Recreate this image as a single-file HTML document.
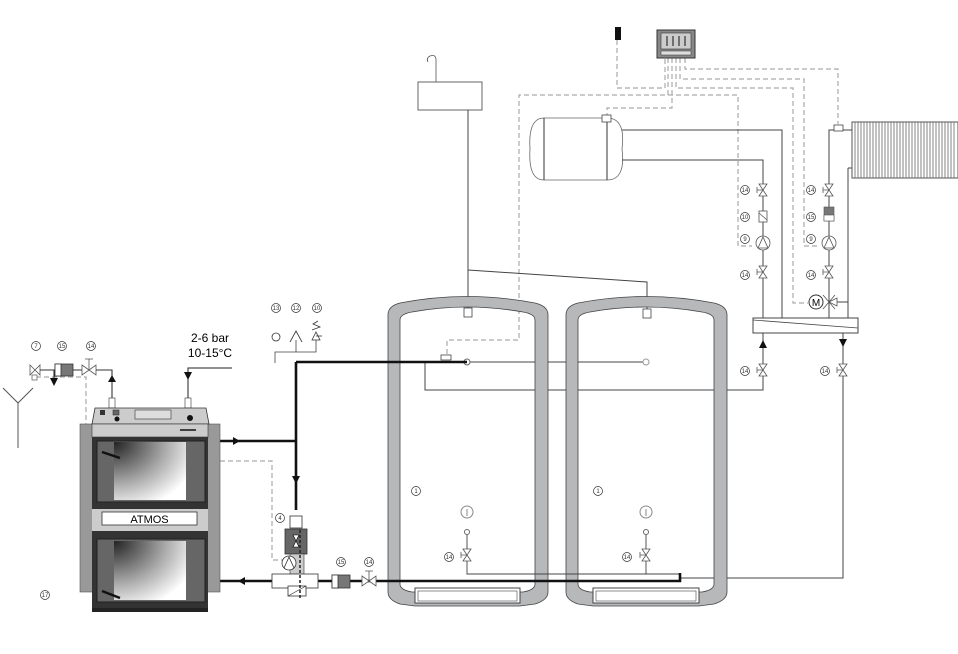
<!DOCTYPE html>
<html><head><meta charset="utf-8"><style>
html,body{margin:0;padding:0;background:#fff;}
svg{display:block;}
text{font-family:"Liberation Sans",sans-serif;}
.n{font-size:6px;text-anchor:middle;}
</style></head><body>
<svg width="958" height="654" viewBox="0 0 958 654" xmlns="http://www.w3.org/2000/svg">
<defs>
<radialGradient id="g" cx="0" cy="0" r="1.2">
<stop offset="0" stop-color="#222"/><stop offset="0.6" stop-color="#aaa"/><stop offset="1" stop-color="#fff"/>
</radialGradient>
<g id="vv"><path d="M-4,-6 L4,-6 L-4,6 L4,6 Z" fill="#fff" stroke="#555" stroke-width="0.8"/><path d="M0,0 h-6 M-6,-3 v6" stroke="#555" stroke-width="0.8"/></g>
<g id="pump"><circle r="7" fill="#fff" stroke="#555" stroke-width="0.8"/><path d="M-5,5 L0,-6 L5,5 Z" fill="none" stroke="#555" stroke-width="0.8"/></g>
</defs>

<!-- dashed signal lines -->
<g fill="none" stroke="#aaa" stroke-width="1.2" stroke-dasharray="5,3">
<path d="M617,40 V88 H665 V58"/>
<path d="M668,58 V95 H519 V340 H447 V354"/>
<path d="M668,95 H738 V246 H752"/>
<path d="M672,58 V108 H607 V118"/>
<path d="M676,58 V88 H793 V303 H808"/>
<path d="M680,58 V79 H804 V246 H818"/>
<path d="M685,58 V69 H838 V124"/>
<path d="M212,461 H272 V560 H283"/>
<path d="M36,377 H86 V425"/>
</g>

<!-- controller & sensor -->
<rect x="615" y="27" width="6" height="13" fill="#111"/>
<rect x="657" y="30" width="38" height="28" fill="#888" stroke="#333"/>
<rect x="661" y="33" width="30" height="16" fill="#ccc" stroke="#333" stroke-width="0.6"/>
<path d="M667,36v10M673,36v10M679,36v10M685,36v10" stroke="#333" stroke-width="1.2"/>
<rect x="661" y="51" width="30" height="4" fill="#ddd" stroke="#333" stroke-width="0.5"/>

<!-- expansion vessel -->
<path d="M436,82 V60 Q436,54 430,56 Q426,58 428,62" fill="none" stroke="#555" stroke-width="0.8"/>
<rect x="418" y="82" width="64" height="28" fill="#fff" stroke="#666"/>
<path d="M468,110 V313 M468,270 L647,282 V313" fill="none" stroke="#444" stroke-width="1"/>

<!-- DHW horizontal tank -->
<path d="M544,118 H607 Q626,118 622,149 Q626,180 607,180 H544 Q528,180 530,149 Q528,118 544,118 Z" fill="#fff" stroke="#666" stroke-width="0.8"/>
<path d="M544,118 V180 M607,118 V180" stroke="#333" stroke-width="1"/>
<rect x="602" y="115" width="9" height="7" fill="#fff" stroke="#444" stroke-width="0.8"/>

<!-- thin hydraulic lines right -->
<g fill="none" stroke="#444" stroke-width="1">
<path d="M622,130 H782 V318"/>
<path d="M622,160 H763 V318"/>
<path d="M829,318 V130 H852"/>
<path d="M848,168 H852 M848,168 V318 M836,302 H848"/>
<path d="M763,333 V390 H425 V362"/>
<path d="M843,333 V578 H680"/>
<path d="M467,362 H647"/>
</g>
<!-- radiator -->
<rect x="852" y="122" width="106" height="56" fill="#fff" stroke="#555"/>
<path d="M855,122V178M858,122V178M861,122V178M864,122V178M867,122V178M870,122V178M873,122V178M876,122V178M879,122V178M882,122V178M885,122V178M888,122V178M891,122V178M894,122V178M897,122V178M900,122V178M903,122V178M906,122V178M909,122V178M912,122V178M915,122V178M918,122V178M921,122V178M924,122V178M927,122V178M930,122V178M933,122V178M936,122V178M939,122V178M942,122V178M945,122V178M948,122V178M951,122V178M954,122V178" stroke="#666" stroke-width="0.8"/>
<rect x="834" y="125" width="9" height="6" fill="#fff" stroke="#444" stroke-width="0.8"/>
<!-- manifold -->
<rect x="753" y="318" width="105" height="15" fill="#fff" stroke="#444"/>
<path d="M753,320 L858,328" stroke="#444" stroke-width="0.8"/>

<!-- components on right columns -->
<use href="#vv" x="763" y="190"/><use href="#vv" x="763" y="272"/>
<rect x="759" y="211" width="8" height="11" fill="#fff" stroke="#555" stroke-width="0.8"/><path d="M759,213 L767,220" stroke="#555" stroke-width="0.7"/>
<use href="#pump" x="763" y="243"/>
<use href="#vv" x="829" y="190"/><use href="#vv" x="829" y="272"/>
<rect x="824" y="207" width="10" height="14" fill="#777" stroke="#555" stroke-width="0.6"/><rect x="824" y="215" width="10" height="6" fill="#fff" stroke="#555" stroke-width="0.6"/>
<use href="#pump" x="829" y="243"/>
<path d="M823,295 L835,309 M835,295 L823,309 M829,302 L837,298 L837,306 Z" fill="#fff" stroke="#555" stroke-width="0.8"/>
<circle cx="816" cy="302" r="7" fill="#fff" stroke="#333"/><text x="816" y="306" font-size="10" text-anchor="middle">M</text>
<use href="#vv" x="763" y="370"/><use href="#vv" x="843" y="370"/>
<path d="M759,348 L763,340 L767,348 Z M839,339 L847,339 L843,347 Z" fill="#111"/>

<!-- tanks -->
<g fill="#b6b8ba" stroke="#444" stroke-width="0.8">
<path fill-rule="evenodd" d="M388,315 Q388,306 400,303 Q467,290 535,303 Q548,306 548,315 V592 Q548,600 535,604 L520,606 H415 L400,604 Q388,600 388,592 Z M400,320 Q400,314 412,312 Q467,302 523,312 Q535,314 535,320 V584 Q535,590 523,592 H412 Q400,590 400,584 Z"/>
<path fill-rule="evenodd" d="M566,315 Q566,306 578,303 Q646,290 714,303 Q727,306 727,315 V592 Q727,600 714,604 L699,606 H593 L578,604 Q566,600 566,592 Z M578,320 Q578,314 590,312 Q646,302 702,312 Q714,314 714,320 V584 Q714,590 702,592 H590 Q578,590 578,584 Z"/>
</g>
<rect x="415" y="588" width="105" height="15" fill="#fff" stroke="#444"/><rect x="418" y="591" width="99" height="10" fill="#fff" stroke="#444" stroke-width="0.6"/>
<rect x="593" y="588" width="106" height="15" fill="#fff" stroke="#444"/><rect x="596" y="591" width="100" height="10" fill="#fff" stroke="#444" stroke-width="0.6"/>
<rect x="464" y="308" width="8" height="9" fill="#fff" stroke="#444" stroke-width="0.8"/>
<rect x="643" y="309" width="8" height="9" fill="#fff" stroke="#444" stroke-width="0.8"/>
<rect x="441" y="355" width="10" height="5" fill="#fff" stroke="#444" stroke-width="0.8"/>
<circle cx="467" cy="362" r="3" fill="#fff" stroke="#666"/><circle cx="646" cy="362" r="3" fill="#fff" stroke="#999"/>
<circle cx="467" cy="512" r="6" fill="#fff" stroke="#888"/><path d="M467,509v7" stroke="#888"/>
<circle cx="646" cy="512" r="6" fill="#fff" stroke="#888"/><path d="M646,509v7" stroke="#888"/>
<circle cx="467" cy="532" r="2.5" fill="#fff" stroke="#666"/><use href="#vv" x="467" y="555"/>
<circle cx="646" cy="532" r="2.5" fill="#fff" stroke="#666"/><use href="#vv" x="646" y="555"/>
<path d="M467,535 V549 M467,561 V574 H680 M646,535 V549 M646,561 V574" stroke="#444" stroke-width="0.9" fill="none"/>

<!-- thick pipes -->
<g fill="none" stroke="#111" stroke-width="2.6">
<path d="M220,441 H296 M296,362 V510 M296,362 H467"/>
<path d="M220,581 H272 M318,581 H680 V573"/>
</g>
<path d="M233,437 L240,441 L233,445 Z M292,476 L300,476 L296,484 Z M245,577 L238,581 L245,585 Z" fill="#111"/>

<!-- safety group -->
<path d="M275,363 V352 H316 V340 M296,352 V340" fill="none" stroke="#444" stroke-width="0.8"/>
<circle cx="276" cy="337" r="4" fill="#fff" stroke="#333" stroke-width="0.8"/>
<path d="M290,342 L296,331 L302,342" fill="none" stroke="#333" stroke-width="0.8"/>
<path d="M312,340 L316,332 L320,340 Z M312,330 L320,327 L313,324 L318,321" fill="none" stroke="#333" stroke-width="0.8"/>
<path d="M316,336 H322" stroke="#333" stroke-width="0.8"/>

<!-- mixing/loading unit -->
<rect x="290" y="516" width="12" height="12" fill="#fff" stroke="#333" stroke-width="0.8"/>
<rect x="285" y="529" width="22" height="25" fill="#666" stroke="#333" stroke-width="0.8"/>
<path d="M293,535 L299,535 L296,541 Z M293,547 L299,547 L296,541 Z" fill="#fff" stroke="#000" stroke-width="0.6"/>
<rect x="290" y="554" width="14" height="30" fill="#ccc" stroke="#333" stroke-width="0.6"/>
<circle cx="289" cy="563" r="7" fill="#fff" stroke="#333" stroke-width="0.8"/><path d="M284,568 L289,557 L294,568" fill="none" stroke="#333" stroke-width="0.8"/>
<rect x="272" y="574" width="46" height="14" fill="#fff" stroke="#333" stroke-width="0.8"/>
<rect x="288" y="586" width="18" height="10" fill="#fff" stroke="#333" stroke-width="0.8"/><path d="M288,596 L306,586" stroke="#333" stroke-width="0.7"/>
<path d="M300,530 V598" stroke="#222" stroke-width="1.5" stroke-dasharray="3,2"/>
<rect x="332" y="575" width="18" height="13" fill="#777" stroke="#333" stroke-width="0.8"/><rect x="332" y="575" width="6" height="13" fill="#fff" stroke="#333" stroke-width="0.8"/>
<path d="M362,576 L376,586 L376,576 L362,586 Z" fill="#fff" stroke="#555" stroke-width="0.8"/><path d="M369,581 V571 M365,571 H373" stroke="#555" stroke-width="0.8"/>

<!-- boiler top left group -->
<path d="M112,398 V382 M112,382 V370 H103 M78,370 H54 V380 M188,398 V368 H232" fill="none" stroke="#222" stroke-width="1"/>
<path d="M108,382 L112,375 L116,382 Z M50,378 L58,378 L54,386 Z M184,372 L192,372 L188,380 Z" fill="#111"/>
<path d="M30,365 L40,375 L40,365 L30,375 Z" fill="#fff" stroke="#555" stroke-width="0.8"/>
<rect x="32" y="375" width="5" height="5" fill="#fff" stroke="#555" stroke-width="0.7"/>
<rect x="55" y="364" width="18" height="12" fill="#777" stroke="#333" stroke-width="0.8"/><rect x="55" y="364" width="6" height="12" fill="#fff" stroke="#333" stroke-width="0.8"/>
<path d="M82,365 L96,375 L96,365 L82,375 Z" fill="#fff" stroke="#555" stroke-width="0.8"/><path d="M89,370 V359 M85,359 H93" stroke="#555" stroke-width="0.8"/>
<path d="M40,370 H55 M73,370 H82 M96,370 H112" stroke="#333"/>
<path d="M3,388 L18,403 L33,388 M18,403 V448" fill="none" stroke="#555" stroke-width="1"/>
<text x="210" y="342" font-size="12" text-anchor="middle">2-6 bar</text>
<text x="210" y="357" font-size="12" text-anchor="middle">10-15°C</text>

<!-- boiler -->
<rect x="80" y="424" width="13" height="168" fill="#999" stroke="#555" stroke-width="0.6"/>
<rect x="207" y="424" width="13" height="168" fill="#999" stroke="#555" stroke-width="0.6"/>
<rect x="109" y="398" width="6" height="10" fill="#fff" stroke="#333" stroke-width="0.6"/>
<rect x="185" y="398" width="6" height="10" fill="#fff" stroke="#333" stroke-width="0.6"/>
<path d="M95,408 H206 L209,424 H92 Z" fill="#ccc" stroke="#333" stroke-width="0.8"/>
<rect x="92" y="424" width="116" height="13" fill="#ccc" stroke="#333" stroke-width="0.6"/>
<rect x="100" y="410" width="5" height="5" fill="#333"/><rect x="113" y="410" width="6" height="5" fill="#666" stroke="#222" stroke-width="0.5"/>
<circle cx="117" cy="419" r="2.5" fill="#111"/><circle cx="190" cy="418" r="3" fill="#111"/>
<rect x="135" y="410" width="36" height="9" fill="#ddd" stroke="#333" stroke-width="0.6"/>
<path d="M180,430 H196" stroke="#111" stroke-width="1.5"/>
<rect x="92" y="437" width="116" height="173" fill="#333"/>
<rect x="97" y="441" width="108" height="61" fill="#666" stroke="#222"/>
<rect x="114" y="442" width="72" height="58" fill="url(#g)"/>
<rect x="92" y="509" width="116" height="22" fill="#ccc"/>
<rect x="102" y="512" width="95" height="13" fill="#fff" stroke="#333" stroke-width="0.8"/>
<text x="149.5" y="523" font-size="11" text-anchor="middle">ATMOS</text>
<rect x="97" y="539" width="108" height="63" fill="#666" stroke="#222"/>
<rect x="114" y="541" width="72" height="59" fill="url(#g)"/>
<path d="M102,452 L120,458 M102,591 L120,598" stroke="#111" stroke-width="2.5"/>
<rect x="92" y="608" width="116" height="4" fill="#222"/>

<!-- number labels -->
<g fill="#fff" stroke="#333" stroke-width="0.7">
<circle cx="36" cy="346" r="4.5"/><circle cx="62" cy="346" r="4.5"/><circle cx="91" cy="346" r="4.5"/>
<circle cx="276" cy="308" r="4.5"/><circle cx="296" cy="308" r="4.5"/><circle cx="317" cy="308" r="4.5"/>
<circle cx="280" cy="518" r="4.5"/><circle cx="341" cy="562" r="4.5"/><circle cx="369" cy="562" r="4.5"/>
<circle cx="45" cy="595" r="4.5"/><circle cx="416" cy="491" r="4.5"/><circle cx="598" cy="491" r="4.5"/>
<circle cx="449" cy="557" r="4.5"/><circle cx="627" cy="557" r="4.5"/>
<circle cx="745" cy="190" r="4.5"/><circle cx="745" cy="217" r="4.5"/><circle cx="745" cy="239" r="4.5"/><circle cx="745" cy="275" r="4.5"/><circle cx="745" cy="371" r="4.5"/>
<circle cx="811" cy="190" r="4.5"/><circle cx="811" cy="217" r="4.5"/><circle cx="811" cy="239" r="4.5"/><circle cx="811" cy="275" r="4.5"/><circle cx="825" cy="371" r="4.5"/>
</g>
<g class="n" fill="#333">
<text x="36" y="348" class="n">7</text><text x="62" y="348" class="n">15</text><text x="91" y="348" class="n">14</text>
<text x="276" y="310" class="n">13</text><text x="296" y="310" class="n">12</text><text x="317" y="310" class="n">10</text>
<text x="280" y="520" class="n">4</text><text x="341" y="564" class="n">15</text><text x="369" y="564" class="n">14</text>
<text x="45" y="597" class="n">17</text><text x="416" y="493" class="n">1</text><text x="598" y="493" class="n">1</text>
<text x="449" y="559" class="n">14</text><text x="627" y="559" class="n">14</text>
<text x="745" y="192" class="n">14</text><text x="745" y="219" class="n">10</text><text x="745" y="241" class="n">9</text><text x="745" y="277" class="n">14</text><text x="745" y="373" class="n">14</text>
<text x="811" y="192" class="n">14</text><text x="811" y="219" class="n">15</text><text x="811" y="241" class="n">9</text><text x="811" y="277" class="n">14</text><text x="825" y="373" class="n">14</text>
</g>
</svg>
</body></html>
